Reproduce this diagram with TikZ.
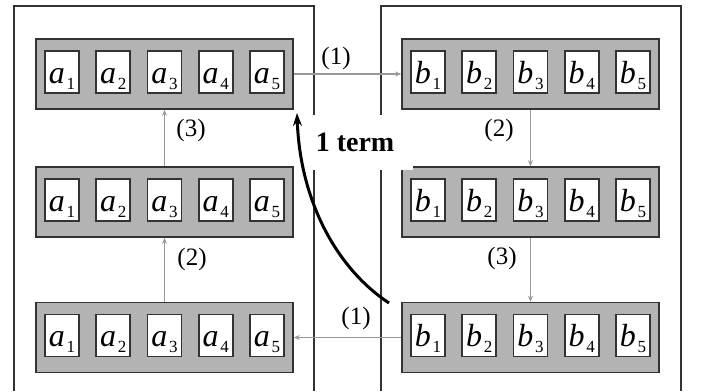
\documentclass[tikz,border=0pt]{standalone}
\usepackage{fontspec}
\setmainfont{Liberation Serif}
\usetikzlibrary{arrows.meta}

\definecolor{edgedark}{HTML}{333333}
\definecolor{rowfill}{HTML}{B3B3B3}
\definecolor{linkgray}{HTML}{999999}

% element symbol: italic letter with an upright subscript index
\newcommand\cellsym[2]{{\fontsize{32}{32}\selectfont\itshape #1}\,\raisebox{-6pt}{\fontsize{17}{17}\selectfont #2}}

\begin{document}
\begin{tikzpicture}[x=1pt,y=-1pt,
  outerbox/.style={draw=edgedark,line width=1.6pt},
  rowbox/.style={draw=edgedark,fill=rowfill,line width=1.6pt,minimum width=257pt,minimum height=70pt,inner sep=0pt},
  cellbox/.style={draw=edgedark,fill=white,line width=1.6pt,minimum width=34pt,minimum height=42pt,inner sep=0pt,text height=22pt,text depth=0pt},
  link/.style={draw=linkgray,line width=1.3pt,-{Stealth[length=6pt,width=5pt]}},
  lbl/.style={font=\fontsize{25}{25}\selectfont,inner sep=0pt},
  termlbl/.style={fill=white,font=\fontsize{28}{28}\selectfont\bfseries,minimum width=115pt,minimum height=55pt,inner sep=0pt},
  termarrow/.style={draw=black,line width=3pt,-{Stealth[length=13pt,width=9pt]}}
]
\useasboundingbox (0,0) rectangle (703,391);

% the two storage areas, open at the bottom
\draw[outerbox] (14,391) -- (14,6) -- (314,6) -- (314,391);
\draw[outerbox] (381,391) -- (381,6) -- (681,6) -- (681,391);

% three rows of five elements on each side
\foreach \r/\y in {1/74,2/202,3/337.5} {
  \node[rowbox] (ar\r) at (164.5,\y) {};
  \node[rowbox] (br\r) at (530.5,\y) {};
  \foreach \k/\dx in {1/-102.5,2/-51.25,3/0,4/51.25,5/102.5} {
    \node[cellbox] (a\r\k) at ([shift={(\dx,-2)}]ar\r.center) {\cellsym{a}{\k}};
    \node[cellbox] (b\r\k) at ([shift={(\dx,-2)}]br\r.center) {\cellsym{b}{\k}};
  }
}

% transfer steps
\draw[link] (ar1.east) -- (br1.west);
\draw[link] (br1.south) -- (br2.north);
\draw[link] (br2.south) -- (br3.north);
\draw[link] (br3.west) -- (ar3.east);
\draw[link] (ar3.north) -- (ar2.south);
\draw[link] (ar2.north) -- (ar1.south);

% step numbers
\node[lbl] (s1top) at (336,58) {(1)};
\node[lbl] (s2right) at (499,130) {(2)};
\node[lbl] (s3right) at (502,258) {(3)};
\node[lbl] (s1bot) at (356,318) {(1)};
\node[lbl] (s2left) at (192,259) {(2)};
\node[lbl] (s3left) at (191,130) {(3)};

% one-term shortcut
\node[termlbl] (term) at (355,142) {1 term};
\coordinate (tstart) at (389,303);
\coordinate (tend) at (297,113);
\draw[termarrow] (tstart) .. controls (336,268) and (300,200) .. (tend);
\end{tikzpicture}
\end{document}
